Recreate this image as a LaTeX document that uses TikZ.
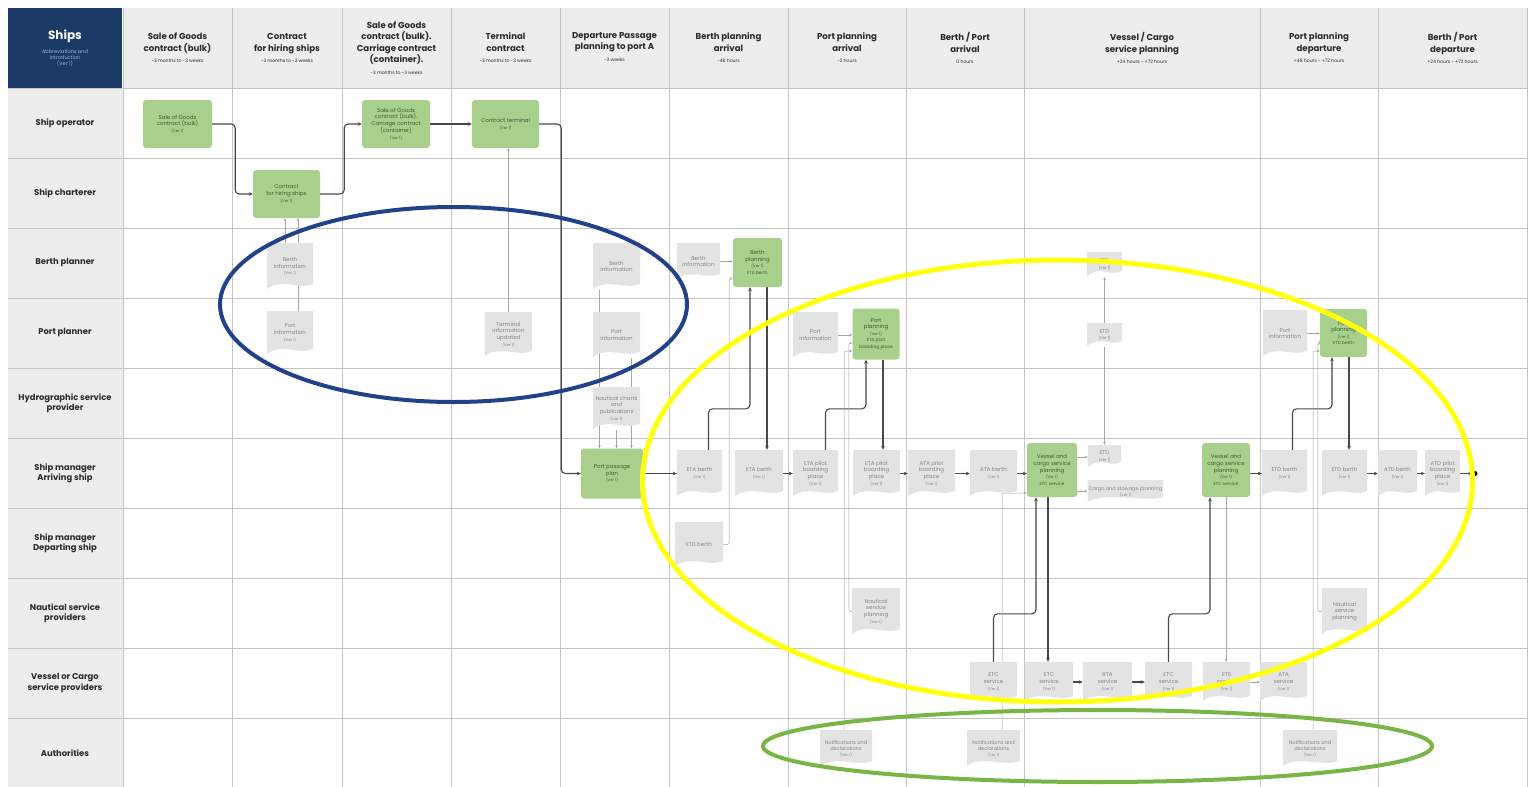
\documentclass[tikz,border=0pt]{standalone}
\usepackage{fontspec}
\setmainfont{Poppins}
\usetikzlibrary{arrows.meta,calc}
\definecolor{hdrgray}{HTML}{EDEDED}
\definecolor{gridc}{HTML}{C4C4C4}
\definecolor{darkblue}{HTML}{1B3A66}
\definecolor{subblue}{HTML}{9DB6DA}
\definecolor{hdrtext}{HTML}{2B2B2B}
\definecolor{greenc}{HTML}{A8D08C}
\definecolor{gtxt}{HTML}{3E5A32}
\definecolor{docgray}{HTML}{E3E3E3}
\definecolor{doctext}{HTML}{858585}
\definecolor{connc}{HTML}{484848}
\definecolor{thinc}{HTML}{A6A6A6}
\definecolor{ellblue}{HTML}{21428A}
\definecolor{ellyellow}{HTML}{FFFF10}
\definecolor{ellgreen}{HTML}{78B446}
\pgfdeclarelayer{gridlayer}
\pgfdeclarelayer{linelayer}
\pgfsetlayers{gridlayer,linelayer,main}
\newcommand\hsub{\fontsize{4.6}{5.5}\selectfont\mdseries}
\newcommand\ver{\fontsize{3.8}{4.6}\selectfont(Ver 1)}
\newcommand\lnk[1]{{\fontsize{4.4}{5.2}\selectfont #1}}
\begin{document}
\begin{tikzpicture}[x=1pt,y=-1pt,
  hdr/.style={align=center,font=\fontsize{8.6}{11.5}\selectfont\bfseries,text=hdrtext},
  lbl/.style={align=center,font=\fontsize{8.4}{10.4}\selectfont\bfseries,text=hdrtext},
  gbox/.style 2 args={fill=greenc,rounded corners=3pt,minimum width=#1,minimum height=#2,
     inner sep=1pt,align=center,font=\fontsize{5.5}{6.6}\selectfont,text=gtxt},
  doc/.style 2 args={minimum width=#1,minimum height=#2,inner sep=1pt,align=center,
     font=\fontsize{5.5}{6.6}\selectfont,text=doctext,
     path picture={\fill[docgray] (path picture bounding box.north west) -- (path picture bounding box.north east)
        -- ([yshift=6pt]path picture bounding box.south east)
        .. controls ([xshift=-14pt,yshift=0pt]path picture bounding box.south east)
        and ([xshift=14pt,yshift=12pt]path picture bounding box.south west)
        .. ([yshift=1pt]path picture bounding box.south west) -- cycle;}},
  conn/.style={draw=connc,line width=1.1pt,rounded corners=4pt,-{Stealth[length=4pt,width=3.6pt]}},
  thinl/.style={draw=thinc,line width=0.5pt,rounded corners=2pt,-{Stealth[length=3pt,width=2.6pt]}},
  ell/.style={line width=4pt}
]
\useasboundingbox (0,0) rectangle (1529,787);
\begin{pgfonlayer}{gridlayer}
\fill[white] (0,0) rectangle (1529,787);
\fill[hdrgray] (123,8) rectangle (1527,88);
\fill[hdrgray] (8,88) rectangle (123,787);
\foreach \x in {123,232,342,451,560,669,788,906,1024,1260,1378,1527}
  \draw[gridc,line width=0.8pt] (\x,8) -- (\x,787);
\foreach \y in {88,158,228,298,368,438,508,578,648,718}
  \draw[gridc,line width=0.8pt] (8,\y) -- (1527,\y);
\fill[darkblue] (8,8) rectangle (122,88);
\end{pgfonlayer}

% header
\node[font=\fontsize{12}{14}\selectfont\bfseries,text=white] (ships) at (65,36) {Ships};
\node[align=center,font=\fontsize{5}{6}\selectfont,text=subblue] (shipsub) at (65,58) {Abbreviations and\\introduction\\(Ver 1)};
\node[hdr] (h1) at (177.5,48) {Sale of Goods\\contract (bulk)\\{\hsub -3 months to -3 weeks}};
\node[hdr] (h2) at (287,48) {Contract\\for hiring ships\\{\hsub -3 months to -3 weeks}};
\node[hdr] (h3) at (396.5,48) {Sale of Goods\\contract (bulk).\\Carriage contract\\(container).\\{\hsub -3 months to -3 weeks}};
\node[hdr] (h4) at (505.5,48) {Terminal\\contract\\{\hsub -3 months to -3 weeks}};
\node[hdr] (h5) at (614.5,47) {Departure Passage\\planning to port A\\{\hsub -3 weeks}};
\node[hdr] (h6) at (728.5,48) {Berth planning\\arrival\\{\hsub -48 hours}};
\node[hdr] (h7) at (847,48) {Port planning\\arrival\\{\hsub -2 hours}};
\node[hdr] (h8) at (965,48) {Berth / Port\\arrival\\{\hsub 0 hours}};
\node[hdr] (h9) at (1142,48) {Vessel / Cargo\\service planning\\{\hsub +24 hours - +72 hours}};
\node[hdr] (h10) at (1319,48) {Port planning\\departure\\{\hsub +48 hours - +72 hours}};
\node[hdr] (h11) at (1452.5,48) {Berth / Port\\departure\\{\hsub +24 hours - +72 hours}};

% row labels
\node[lbl] (r1) at (65,123) {Ship operator};
\node[lbl] (r2) at (65,193) {Ship charterer};
\node[lbl] (r3) at (65,263) {Berth planner};
\node[lbl] (r4) at (65,333) {Port planner};
\node[lbl] (r5) at (65,403) {Hydrographic service\\provider};
\node[lbl] (r6) at (65,473) {Ship manager\\Arriving ship};
\node[lbl] (r7) at (65,543) {Ship manager\\Departing ship};
\node[lbl] (r8) at (65,613) {Nautical service\\providers};
\node[lbl] (r9) at (65,683) {Vessel or Cargo\\service providers};
\node[lbl] (r10) at (65,753) {Authorities};

% green process boxes
\node[gbox={69}{48}] (g1) at (177.5,124) {Sale of Goods\\contract (bulk)\\\ver};
\node[gbox={67}{48}] (g2) at (286.5,194) {Contract\\for hiring ships\\\ver};
\node[gbox={68}{48}] (g3) at (396,124) {Sale of Goods\\contract (bulk).\\Carriage contract\\(container)\\\ver};
\node[gbox={67}{48}] (g4) at (505.5,124) {Contract terminal\\\ver};
\node[gbox={62}{50}] (g5) at (612,473.5) {Port passage\\plan\\\ver};
\node[gbox={49}{49}] (g6) at (757.5,262.5) {Berth\\planning\\\ver\\\lnk{ETA berth}};
\node[gbox={47}{51}] (g7) at (876,334) {Port\\planning\\\ver\\\lnk{ETA pilot}\\\lnk{boarding place}};
\node[gbox={50}{54}] (g8) at (1052,470) {Vessel and\\cargo service\\planning\\\ver\\\lnk{ETC service}};
\node[gbox={48}{54}] (g9) at (1226,470) {Vessel and\\cargo service\\planning\\\ver\\\lnk{ETC service}};
\node[gbox={47}{48}] (g10) at (1343.5,333) {Port\\planning\\\ver\\\lnk{ETD berth}};

% information documents
\node[doc={46}{47}] (d1) at (290,266.5) {Berth\\information\\\ver};
\node[doc={46}{44}] (d2) at (290,333) {Port\\information\\\ver};
\node[doc={47}{45}] (d3) at (508.5,334.5) {Terminal\\information\\updated\\\ver};
\node[doc={47}{47}] (d4) at (616.5,266.5) {Berth\\information};
\node[doc={47}{46}] (d5) at (616.5,335) {Port\\information};
\node[doc={47}{43}] (d6) at (616.5,408.5) {Nautical charts\\and\\publications\\\ver};
\node[doc={43}{37}] (d7) at (698.5,261.5) {Berth\\information};
\node[doc={45}{46}] (d8) at (815.5,335) {Port\\information};
\node[doc={44}{47}] (d9) at (1285,333.5) {Port\\information};
\node[doc={35}{25}] (e1) at (1104.5,264.5) {ETD\\\ver};
\node[doc={35}{24}] (e2) at (1104.5,335) {ETD\\\ver};
\node[doc={33}{23}] (e3) at (1104.5,456.5) {ETD\\\ver};
\node[doc={75}{23},font=\fontsize{5}{6}\selectfont] (cp) at (1125.5,491.5) {Cargo and stowage planning\\\ver};
\node[doc={45}{47}] (a1) at (699.5,473.5) {ETA berth\\\ver};
\node[doc={48}{47}] (a2) at (759,473.5) {ETA berth\\\ver};
\node[doc={45}{47}] (a3) at (815.5,473.5) {ETA pilot\\boarding\\place\\\ver};
\node[doc={47}{47}] (a4) at (876.5,473.5) {ETA pilot\\boarding\\place\\\ver};
\node[doc={47}{47}] (a5) at (931.5,473.5) {ATA pilot\\boarding\\place\\\ver};
\node[doc={47}{47}] (a6) at (993.5,473.5) {ATA berth\\\ver};
\node[doc={45}{47}] (a7) at (1284.5,473.5) {ETD berth\\\ver};
\node[doc={45}{47}] (a8) at (1344.5,473.5) {ETD berth\\\ver};
\node[doc={39}{47}] (a9) at (1397.5,473.5) {ATD berth\\\ver};
\node[doc={35}{47}] (a10) at (1442.5,473.5) {ATD pilot\\boarding\\place\\\ver};
\node[circle,fill=black,inner sep=0pt,minimum size=5pt] (endpt) at (1475,473.5) {};
\node[doc={48}{45}] (dd) at (699,544.5) {ETD berth};
\node[doc={48}{47}] (n1) at (876,611.5) {Nautical\\service\\planning\\\ver};
\node[doc={45}{47}] (n2) at (1344.5,611.5) {Nautical\\service\\planning};
\node[doc={47}{40}] (v1) at (993.5,682) {ETC\\service\\\ver};
\node[doc={48}{40}] (v2) at (1049,682) {ETC\\service\\\ver};
\node[doc={49}{40}] (v3) at (1107.5,682) {RTA\\service\\\ver};
\node[doc={47}{40}] (v4) at (1168.5,682) {ETC\\service\\\ver};
\node[doc={47}{40}] (v5) at (1226.5,682) {ETS\\service\\\ver};
\node[doc={47}{40}] (v6) at (1283.5,682) {ATA\\service\\\ver};
\node[doc={52}{37},font=\fontsize{5}{6}\selectfont] (au1) at (846,748.5) {Notifications and\\declarations\\\ver};
\node[doc={53}{37},font=\fontsize{5}{6}\selectfont] (au2) at (993.5,748.5) {Notifications and\\declarations\\\ver};
\node[doc={54}{37},font=\fontsize{5}{6}\selectfont] (au3) at (1310,748.5) {Notifications and\\declarations\\\ver};

\begin{pgfonlayer}{linelayer}
% main flow
\draw[conn] (g1.east) -- ++(23,0) |- (g2.west);
\draw[conn] (g2.east) -- ++(24,0) |- (g3.west);
\draw[conn] (g3.east) -- (g4.west);
\draw[conn] (g4.east) -- ++(22,0) |- (g5.west);
\draw[conn] (g5.east) -- (a1.west);
\draw[conn] ([xshift=9pt]a1.north) -- ++(0,-41) -| ([xshift=-7.5pt]g6.south);
\draw[conn] ([xshift=9.5pt]g6.south) -- ([xshift=9.5pt]g6.south |- a2.north);
\draw[conn] (a2.east) -- (a3.west);
\draw[conn] ([xshift=10pt]a3.north) -- ++(0,-41) -| ([xshift=-10pt]g7.south);
\draw[conn] ([xshift=7pt]g7.south) -- ([xshift=7pt]g7.south |- a4.north);
\draw[conn] (a4.east) -- (a5.west);
\draw[conn] (a5.east) -- (a6.west);
\draw[conn] (a6.east) -- (a6.east -| g8.west);
\draw[conn] (v1.north) -- ++(0,-48) -| ([xshift=-16pt]g8.south);
\draw[conn] ([xshift=-4pt]g8.south) -- ([xshift=-4pt]g8.south |- v2.north);
\draw[conn] (v2.east) -- (v3.west);
\draw[conn] (v3.east) -- (v4.west);
\draw[conn] (v4.north) -- ++(0,-48) -| ([xshift=-16pt]g9.south);
\draw[conn] (g9.east |- a7.west) -- (a7.west);
\draw[conn] ([xshift=8pt]a7.north) -- ++(0,-41) -| ([xshift=-11.5pt]g10.south);
\draw[conn] ([xshift=5.5pt]g10.south) -- ([xshift=5.5pt]g10.south |- a8.north);
\draw[conn] (a8.east) -- (a9.west);
\draw[conn] (a9.east) -- (a10.west);
\draw[conn] (a10.east) -- (endpt);
% thin information flows
\draw[thinl] ([xshift=-5pt]d1.north) -- ([xshift=-5pt]d1.north |- g2.south);
\draw[thinl] ([xshift=8pt]d2.north) -- ([xshift=8pt]d2.north |- g2.south);
\draw[thinl] (d3.north) -- (d3.north |- g4.south);
\draw[thinl] ([xshift=-17pt]d4.south) -- ([xshift=-17pt]d4.south |- g5.north);
\draw[thinl] (d6.south) -- (d6.south |- g5.north);
\draw[thinl] ([xshift=15pt]d5.south) -- ([xshift=15pt]d5.south |- g5.north);
\draw[thinl] (d7.east) -- (d7.east -| g6.west);
\draw[thinl] (dd.east) -- ++(6,0) |- ([yshift=-16pt]g6.west);
\draw[thinl] (d8.east) -- (d8.east -| g7.west);
\draw[thinl] ([xshift=-2pt]au1.north) |- ([yshift=-17pt]g7.west);
\draw[thinl] (n1.west) -- ++(-3,0) |- ([yshift=-9pt]g7.west);
\draw[thinl] ([yshift=13pt]g8.east) -- ([yshift=13pt]g8.east -| e3.west);
\draw[thinl] ([yshift=-21pt]g8.east) -- ([yshift=-21pt]g8.east -| cp.west);
\draw[thinl] (e2.north) -- (e1.south);
\draw[thinl] (e2.south) -- (e3.north);
\draw[thinl] ([xshift=8.5pt]au2.north) |- ([yshift=-23pt]g8.west);
\draw[thinl] (g9.south) -- (g9.south |- v5.north);
\draw[thinl] (v5.east) -- (v6.west);
\draw[thinl] (d9.east) -- (d9.east -| g10.west);
\draw[thinl] ([xshift=3pt]au3.north) |- ([yshift=-18pt]g10.west);
\draw[thinl] (n2.west) -- ++(-4,0) |- ([yshift=-9pt]g10.west);
\end{pgfonlayer}

% annotation ellipses
\draw[ellblue,ell] (453.5,304.5) ellipse [x radius=233.5pt,y radius=97.5pt];
\draw[ellyellow,line width=5pt] (1057.5,481) ellipse [x radius=415pt,y radius=221pt];
\draw[ellgreen,ell] (1097.5,746) ellipse [x radius=334.5pt,y radius=36pt];
\end{tikzpicture}
\end{document}
